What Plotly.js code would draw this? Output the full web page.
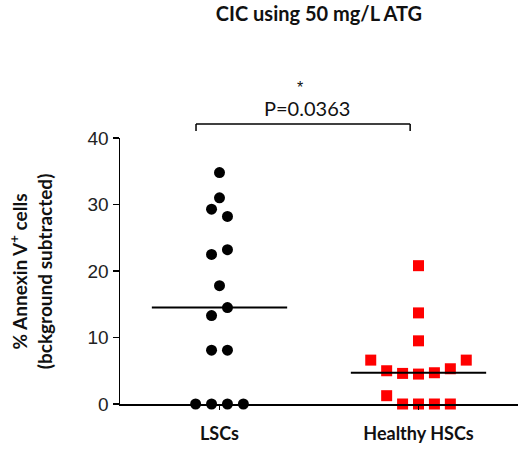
<!DOCTYPE html>
<html>
<head>
<meta charset="utf-8">
<script src="https://cdn.plot.ly/plotly-3.0.1.min.js"></script>
<style>
	body { margin: 0; background: #fff; }
	#plot { width: 520px; height: 457px; }
</style>
</head>
<body>
<div id="plot"></div>
<script>
// values, in the order GraphPad laid them out
let groupNames = ["LSCs", "Healthy HSCs"];
let lscValues = [34.8, 31.0, 29.3, 28.2, 22.5, 23.2, 17.8, 13.3, 14.5, 8.1, 8.1, 0, 0, 0, 0];
let hscValues = [20.8, 13.7, 9.5, 4.5, 4.6, 4.7, 5.0, 5.3, 6.6, 6.6, 0, 0, 0, 1.25, 0];
let yTicks = [0, 10, 20, 30, 40];

function median(vals) {
	let s = vals.slice().sort((a, b) => a - b);
	let m = Math.floor(s.length / 2);
	return s.length % 2 ? s[m] : (s[m - 1] + s[m]) / 2;
}

// simple column scatter: values close together share a row and spread sideways
function swarmOffsets(vals, gap, step) {
	let idx = vals.map((v, i) => i).sort((a, b) => vals[a] - vals[b]);
	let groups = [];
	for (let i of idx) {
		let g = groups[groups.length - 1];
		if (g && vals[i] - vals[g[0]] <= gap) g.push(i);
		else groups.push([i]);
	}
	let offs = new Array(vals.length).fill(0);
	for (let g of groups) {
		g.sort((a, b) => a - b);
		let n = g.length;
		for (let k = 0; k < n; k++) {
			let slot;
			if (n % 2) slot = (k == 0) ? 0 : Math.ceil(k / 2) * (k % 2 ? -1 : 1);
			else slot = (Math.floor(k / 2) + 0.5) * (k % 2 ? 1 : -1);
			offs[g[k]] = slot * step;
		}
	}
	return offs;
}

function columnX(center, vals) {
	return swarmOffsets(vals, 2.2, 0.08).map(o => center + o);
}

let lscMed = median(lscValues);
let hscMed = median(hscValues);

let traces = [
	{
		type: "scatter", mode: "markers", x: columnX(0, lscValues), y: lscValues,
		marker: {symbol: "circle", size: 11, color: "#000"}, cliponaxis: false, hoverinfo: "y"
	},
	{
		type: "scatter", mode: "markers", x: columnX(1, hscValues), y: hscValues,
		marker: {symbol: "square", size: 11, color: "#ff0000"}, cliponaxis: false, hoverinfo: "y"
	},
	{
		type: "scatter", mode: "lines", x: [-0.34, 0.34], y: [lscMed, lscMed],
		line: {color: "#000", width: 2}, cliponaxis: false, hoverinfo: "skip"
	},
	{
		type: "scatter", mode: "lines", x: [1 - 0.34, 1 + 0.34], y: [hscMed, hscMed],
		line: {color: "#000", width: 2}, cliponaxis: false, hoverinfo: "skip"
	}
];

let layout = {
	width: 520,
	height: 457,
	margin: {l: 120, r: 2, t: 138, b: 53},
	paper_bgcolor: "#fff",
	plot_bgcolor: "#fff",
	showlegend: false,
	title: {
		text: "<b>CIC using 50 mg/L ATG</b>",
		font: {family: "Lato, sans-serif", size: 20, color: "#111"},
		x: 0.5, xref: "paper", xanchor: "center",
		y: 1 - 14 / 457, yref: "container", yanchor: "middle"
	},
	xaxis: {
		range: [-0.5, 1.5],
		tickvals: [0, 1],
		ticktext: groupNames.map(t => "<b>" + t + "</b>"),
		tickfont: {family: "Lato, sans-serif", size: 18, color: "#111"},
		ticks: "outside", ticklen: 4, tickwidth: 1, tickcolor: "#000",
		ticklabelstandoff: 9,
		showline: true, linecolor: "#000", linewidth: 1.5,
		showgrid: false, zeroline: false, fixedrange: true
	},
	yaxis: {
		range: [0, 40],
		tickvals: yTicks,
		tickfont: {family: "Liberation Sans, Arial, sans-serif", size: 19, color: "#222"},
		ticks: "outside", ticklen: 6, tickwidth: 1.5, tickcolor: "#000",
		showline: true, linecolor: "#000", linewidth: 1.5,
		showgrid: false, zeroline: false, fixedrange: true
	},
	shapes: [
		{type: "line", xref: "paper", yref: "paper", x0: 0.191, x1: 0.729, y0: 1.0526, y1: 1.0526,
			line: {color: "#000", width: 1.5}},
		{type: "line", xref: "paper", yref: "paper", x0: 0.191, x1: 0.191, y0: 1.0526, y1: 1.026,
			line: {color: "#000", width: 1.5}},
		{type: "line", xref: "paper", yref: "paper", x0: 0.729, x1: 0.729, y0: 1.0526, y1: 1.026,
			line: {color: "#000", width: 1.5}}
	],
	annotations: [
		{
			text: "*", xref: "paper", yref: "paper", x: 0.452, y: 1.19,
			xanchor: "center", yanchor: "middle",
			showarrow: false, font: {family: "Liberation Sans, Arial, sans-serif", size: 16, color: "#111"}
		},
		{
			text: "P=0.0363", xref: "paper", yref: "paper", x: 0.469, y: 1.112,
			xanchor: "center", yanchor: "middle",
			showarrow: false, font: {family: "Lato, sans-serif", size: 20, color: "#111"}
		},
		{
			text: "<b>% Annexin V<sup>+</sup> cells<br>(bckground subtracted)</b>",
			xref: "paper", yref: "paper", x: -0.223, y: 0.5, textangle: -90,
			xanchor: "center", yanchor: "middle", showarrow: false,
			font: {family: "Lato, sans-serif", size: 19, color: "#111"}
		}
	]
};

Plotly.newPlot("plot", traces, layout, {displayModeBar: false, staticPlot: true});
</script>
</body>
</html>
